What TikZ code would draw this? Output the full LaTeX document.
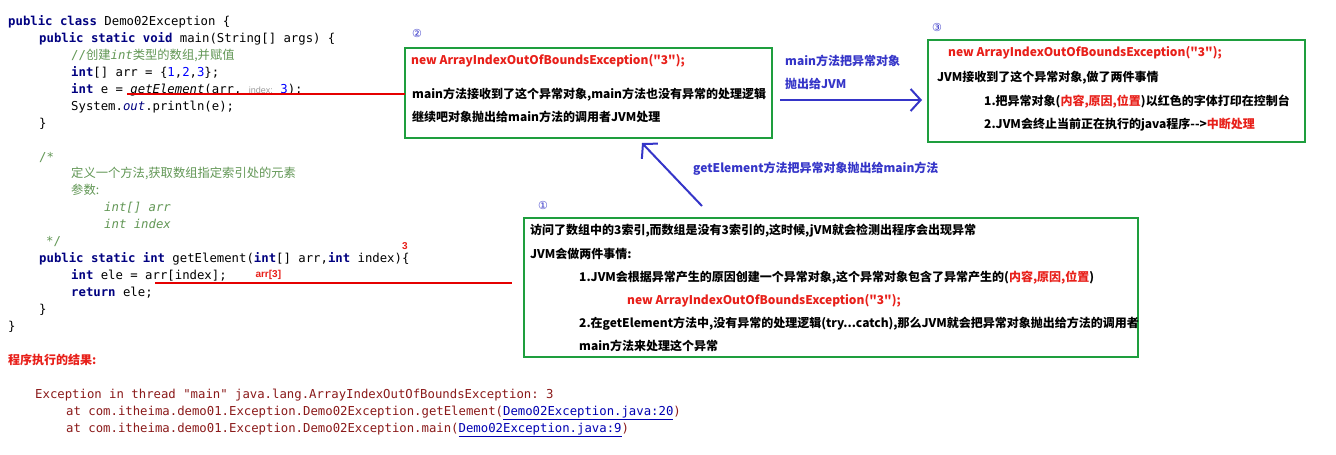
\documentclass[tikz,border=0pt]{standalone}
\usepackage{fontspec}
\usepackage{xcolor}
\setmainfont{Liberation Sans}
\setmonofont{DejaVu Sans Mono}
\newfontfamily\cjk{Noto Sans CJK SC}
\newfontfamily\symf{DejaVu Sans}
\usetikzlibrary{arrows.meta,positioning}
\definecolor{kwc}{HTML}{000080}
\definecolor{cmc}{HTML}{629755}
\definecolor{boxg}{HTML}{1E9E3E}
\definecolor{redt}{HTML}{E8201A}
\definecolor{bluet}{HTML}{3535C8}
\definecolor{exc}{HTML}{8B1A1A}
\newcommand{\kw}[1]{\textcolor{kwc}{\bfseries #1}}
\newcommand{\cm}[1]{\textcolor{cmc}{#1}}
\newcommand{\nm}[1]{\textcolor{blue}{#1}}
\newcommand{\rd}[1]{\textcolor{redt}{#1}}
\newcommand{\lnk}[1]{\textcolor{blue!70!black}{\underline{#1}}}

\begin{document}
\begin{tikzpicture}[x=1pt,y=-1pt,
  code/.style={anchor=base west, inner sep=0pt, font=\ttfamily\fontsize{12.3}{14}\selectfont},
  note/.style={anchor=base west, inner sep=0pt, font=\cjk\bfseries\fontsize{12}{14}\selectfont},
  notebox/.style={draw=boxg, line width=1.8pt},
  redline/.style={red!90!black, line width=1.8pt},
  throw/.style={bluet, line width=2pt, -{Straight Barb[length=10pt,width=22pt]}},
  tag/.style={anchor=base, inner sep=0pt, text=bluet, font=\symf\fontsize{11}{13}\selectfont}]
\fill[white] (0,0) rectangle (1336,455);
\useasboundingbox (0,0) rectangle (1336,455);
% code
\node[code] (c1) at (8,25) {\kw{public class} Demo02Exception \{};
\node[code] (c2) at (39,42) {\kw{public static void} main(String[] args) \{};
\node[code] (c3) at (71,59) {\cm{//{\cjk 创建}\textit{int}{\cjk 类型的数组,并赋值}}};
\node[code] (c4) at (71,76) {\kw{int}[] arr = \{\nm{1},\nm{2},\nm{3}\};};
\node[code] (c5) at (71,93) {\kw{int} e = \textit{getElement}(arr, {\rmfamily\small\color{gray!80} index:} \nm{3});};
\node[code] (c6) at (71,110) {System.\textit{\textcolor{kwc}{out}}.println(e);};
\node[code] (c7) at (39,127) {\}};
\node[code] (c8) at (39,161) {\cm{/*}};
\node[code] (c9) at (71,177) {\cm{\cjk 定义一个方法,获取数组指定索引处的元素}};
\node[code] (c10) at (71,194) {\cm{\cjk 参数:}};
\node[code] (c11) at (104,211) {\cm{\textit{int[] arr}}};
\node[code] (c12) at (104,228) {\cm{\textit{int index}}};
\node[code] (c13) at (46,245) {\cm{*/}};
\node[code] (c14) at (39,262) {\kw{public} \kw{static int} getElement(\kw{int}[] arr,\kw{int} index)\{};
\node[code] (c15) at (71,279) {\kw{int} ele = arr[index];};
\node[code] (c16) at (71,296) {\kw{return} ele;};
\node[code] (c17) at (39,313) {\}};
\node[code] (c18) at (8,330) {\}};
\node[anchor=base, text=redt, font=\bfseries\fontsize{10}{12}\selectfont] (idx) at (405,249) {3};
\node[anchor=base west, text=redt, font=\bfseries\fontsize{10}{12}\selectfont] (a3) at (252,277) {arr[3]};
% boxes
\draw[notebox] (405,48) rectangle (772,138);
\draw[notebox] (928,40) rectangle (1305,142);
\draw[notebox] (524,218) rectangle (1138,357);
\coordinate (m2) at (405,94);
\coordinate (m1) at (512,283);
\draw[redline] (127,94) -- (m2);
\draw[redline] (155,283) -- (m1);
\node[tag] (n2) at (417,37) {②};
\node[tag] (n3) at (937,31) {③};
\node[tag] (n1) at (543,209) {①};
% box 2
\node[note, text=redt] (b2a) at (411,64) {new ArrayIndexOutOfBoundsException("3");};
\node[note] (b2b) at (412,98) {main方法接收到了这个异常对象,main方法也没有异常的处理逻辑};
\node[note] (b2c) at (412,121) {继续吧对象抛出给main方法的调用者JVM处理};
% box 3
\node[note, text=redt] (b3a) at (948,56) {new ArrayIndexOutOfBoundsException("3");};
\node[note] (b3b) at (937,81) {JVM接收到了这个异常对象,做了两件事情};
\node[note] (b3c) at (984,105) {1.把异常对象(\rd{内容,原因,位置})以红色的字体打印在控制台};
\node[note] (b3d) at (984,128) {2.JVM会终止当前正在执行的java程序-->\rd{中断处理}};
% box 1
\node[note] (b1a) at (530,234) {访问了数组中的3索引,而数组是没有3索引的,这时候,jVM就会检测出程序会出现异常};
\node[note] (b1b) at (530,258) {JVM会做两件事情:};
\node[note] (b1c) at (579,281) {1.JVM会根据异常产生的原因创建一个异常对象,这个异常对象包含了异常产生的(\rd{内容,原因,位置})};
\node[note, text=redt] (b1d) at (627,304) {new ArrayIndexOutOfBoundsException("3");};
\node[note] (b1e) at (579,327) {2.在getElement方法中,没有异常的处理逻辑(try...catch),那么JVM就会把异常对象抛出给方法的调用者};
\node[note] (b1f) at (579,350) {main方法来处理这个异常};
% arrows
\coordinate (t2a) at (780,100);
\coordinate (t2b) at (922,100);
\draw[throw] (t2a) -- (t2b);
\coordinate (t1a) at (702,206);
\coordinate (t1b) at (642,143);
\draw[throw] (t1a) -- (t1b);
\node[note, text=bluet] (l2a) at (785,65) {main方法把异常对象};
\node[note, text=bluet] (l2b) at (785,88) {抛出给JVM};
\node[note, text=bluet] (l1) at (693,172) {getElement方法把异常对象抛出给main方法};
% result
\node[note, text=redt] (res) at (8,364) {程序执行的结果:};
\node[code, text=exc] (e1) at (35,398) {Exception in thread "main" java.lang.ArrayIndexOutOfBoundsException: 3};
\node[code, text=exc] (e2) at (66,415) {at com.itheima.demo01.Exception.Demo02Exception.getElement(\lnk{Demo02Exception.java:20})};
\node[code, text=exc] (e3) at (66,432) {at com.itheima.demo01.Exception.Demo02Exception.main(\lnk{Demo02Exception.java:9})};
\end{tikzpicture}
\end{document}
